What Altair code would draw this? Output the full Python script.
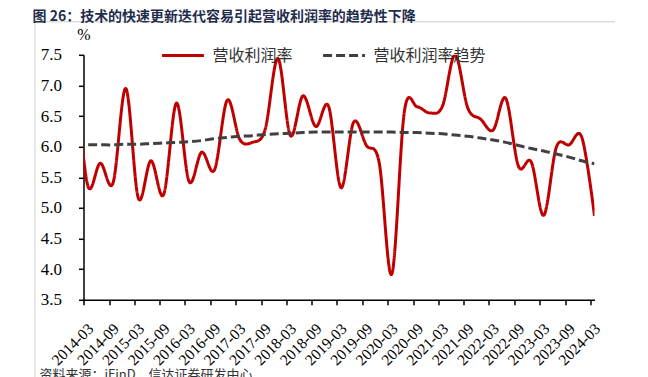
import altair as alt
import pandas as pd

# ---- data ----
ends = {"03": "31", "06": "30", "09": "30", "12": "31"}
quarters = ["2013-12-31"] + [f"{y}-{m}-{ends[m]}" for y in range(2014, 2025)
                             for m in ("03", "06", "09", "12")][:41]

# quarterly values, 2013-12 (clipped at the axis) then 2014-03 ... 2024-03
margin = [7.20,
          5.37, 5.73, 5.41, 6.95, 5.16, 5.77, 5.22, 6.71, 5.43, 5.91,
          5.62, 6.76, 6.12, 6.07, 6.28, 7.44, 6.18, 6.83, 6.33, 6.66,
          5.33, 6.40, 6.02, 5.74, 3.92, 6.58, 6.65, 6.55, 6.66, 7.50,
          6.63, 6.45, 6.27, 6.79, 5.68, 5.75, 4.88, 5.99, 6.03, 6.15,
          4.87]
trend = [6.03,
         6.03, 6.03, 6.03, 6.04, 6.04, 6.05, 6.06, 6.07, 6.08, 6.10,
         6.13, 6.15, 6.17, 6.18, 6.20, 6.21, 6.22, 6.23, 6.24, 6.24,
         6.24, 6.24, 6.24, 6.24, 6.24, 6.23, 6.23, 6.22, 6.21, 6.19,
         6.17, 6.14, 6.11, 6.07, 6.02, 5.97, 5.93, 5.88, 5.83, 5.77,
         5.72]

tick_labels = [f"{y}-{m}" for y in range(2014, 2025) for m in ("03", "09")][:21]
y_ticks = [3.5, 4.0, 4.5, 5.0, 5.5, 6.0, 6.5, 7.0, 7.5]

s1 = "营收利润率"
s2 = "营收利润率趋势"

df = pd.DataFrame({
    "date": quarters * 2,
    "value": margin + trend,
    "series": [s1] * len(quarters) + [s2] * len(quarters),
})

# ---- chart ----
W, H = 511, 245
serif = "Liberation Serif"
cjk = "Noto Sans CJK SC"

tick_values = [alt.DateTime(year=int(t[:4]), month=int(t[5:]), date=1, utc=True)
               for t in tick_labels]

legend = alt.Legend(
    orient="none", legendX=77, legendY=-22, direction="horizontal", title=None,
    symbolType="stroke", symbolSize=1750, symbolStrokeWidth=3,
    labelFont=cjk, labelFontSize=16, labelColor="#333333",
    columnPadding=23, labelOffset=7,
)

lines = alt.Chart(df).mark_line(
    clip=True, interpolate="cardinal", tension=0, strokeWidth=3
).encode(
    x=alt.X("date:T",
            scale=alt.Scale(type="utc", nice=False,
                            domain=[alt.DateTime(year=2014, month=3, date=1, utc=True),
                                    alt.DateTime(year=2024, month=3, date=31, utc=True)]),
            axis=alt.Axis(values=tick_values,
                          labelExpr="utcFormat(datum.value, '%Y-%m')",
                          labelAngle=-45, labelFont=serif, labelFontSize=15.5,
                          labelColor="#000000", labelPadding=16, labelOffset=2,
                          tickSize=5, grid=False, title=None,
                          labelOverlap=False, labelFlush=False)),
    y=alt.Y("value:Q",
            scale=alt.Scale(domain=[3.5, 7.5], nice=False, zero=False),
            axis=alt.Axis(values=y_ticks, format=".1f", labelFont=serif, labelFontSize=17,
                          labelColor="#000000", labelPadding=17, tickSize=5, grid=False,
                          title="%", titleAngle=0, titleX=0, titleY=-20,
                          titleAlign="center", titleBaseline="middle",
                          titleFont=serif, titleFontSize=16, titleFontWeight="normal",
                          titleColor="#000000")),
    color=alt.Color("series:N",
                    scale=alt.Scale(domain=[s1, s2], range=["#C00000", "#404040"]),
                    legend=legend),
    strokeDash=alt.StrokeDash("series:N",
                              scale=alt.Scale(domain=[s1, s2], range=[[1, 0], [9, 4]]),
                              legend=legend),
)

one = pd.DataFrame({"k": [0]})
frame_top = alt.Chart(one).mark_rule(color="#cfcfcf", strokeWidth=1).encode(
    x=alt.value(-48.5), x2=alt.value(531.5), y=alt.value(-33))
frame_left = alt.Chart(one).mark_rule(color="#cfcfcf", strokeWidth=1).encode(
    x=alt.value(-48.5), y=alt.value(-33), y2=alt.value(330))
source = alt.Chart(one).mark_text(
    align="left", baseline="top", font=cjk, fontSize=13, color="#333333"
).encode(x=alt.value(-44), y=alt.value(314),
         text=alt.value("资料来源：iFinD，信达证券研发中心"))

chart = alt.layer(frame_top, frame_left, lines, source).properties(
    width=W, height=H,
    autosize=alt.AutoSizeParams(type="none"),
    padding={"left": 75.5, "top": 46.8, "right": 45.5, "bottom": 78},
    title=alt.TitleParams(
        "图 26：技术的快速更新迭代容易引起营收利润率的趋势性下降",
        anchor="start", font=cjk, fontSize=14, fontWeight="bold",
        color="#1f2d4d", dx=-2, dy=5, offset=2),
).configure_view(stroke=None).configure_axis(
    domainColor="#000000", domainWidth=1.5, tickColor="#000000", tickWidth=1.5
)

chart.save("out.html", embed_options={"renderer": "svg", "actions": False})
